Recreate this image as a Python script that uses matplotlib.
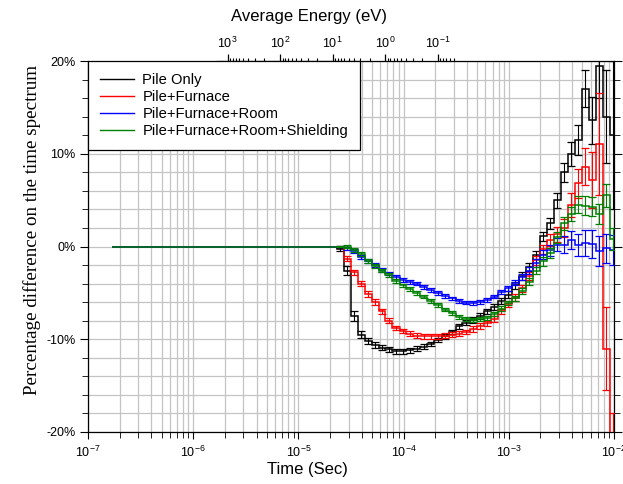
import numpy as np
import matplotlib
matplotlib.use("Agg")
import matplotlib.pyplot as plt
from matplotlib.lines import Line2D
from matplotlib.ticker import FixedLocator, NullFormatter, LogLocator, MultipleLocator

plt.rcParams['font.family'] = ['Liberation Sans', 'DejaVu Sans']
plt.rcParams['axes.unicode_minus'] = False

# ---------------- data ----------------
series_labels = ["Pile Only", "Pile+Furnace", "Pile+Furnace+Room", "Pile+Furnace+Room+Shielding"]
series_colors = ["#000000", "#ff0000", "#0000ff", "#008000"]

t_start = 1.7e-7          # start of the flat (zero) region, seconds
time_centers = [2.49e-5, 2.90e-5, 3.38e-5, 3.94e-5, 4.59e-5, 5.35e-5, 6.23e-5, 7.26e-5,
                8.47e-5, 9.87e-5, 1.15e-4, 1.34e-4, 1.56e-4, 1.82e-4, 2.12e-4, 2.48e-4,
                2.89e-4, 3.36e-4, 3.92e-4, 4.57e-4, 5.33e-4, 6.21e-4, 7.24e-4, 8.43e-4,
                9.83e-4, 1.15e-3, 1.34e-3, 1.56e-3, 1.82e-3, 2.12e-3, 2.47e-3, 2.87e-3,
                3.35e-3, 3.91e-3, 4.55e-3, 5.31e-3, 6.18e-3, 7.21e-3, 8.40e-3, 9.79e-3]

pile_only = [-0.3, -2.6, -7.5, -9.5, -10.2, -10.6, -10.9, -11.1, -11.3, -11.3,
             -11.2, -11.0, -10.8, -10.5, -10.1, -9.7, -9.2, -8.6, -8.2, -7.9,
             -7.5, -7.0, -6.5, -5.9, -5.2, -4.2, -3.2, -2.2, -0.9, 1.1,
             2.5, 5.0, 8.0, 10.0, 11.5, 17.0, 13.6, 19.5, 14.0, 12.0]
pile_only_err = [0.15, 0.5, 0.5, 0.4, 0.3, 0.3, 0.25, 0.25, 0.25, 0.25,
                 0.25, 0.25, 0.25, 0.25, 0.25, 0.25, 0.25, 0.25, 0.25, 0.3,
                 0.3, 0.3, 0.3, 0.3, 0.35, 0.35, 0.4, 0.4, 0.45, 0.5,
                 0.6, 0.8, 1.0, 1.3, 1.6, 2.0, 2.5, 3.5, 5.0, 8.0]

pile_furnace = [0.0, -1.3, -2.8, -4.0, -5.1, -6.0, -7.0, -8.0, -8.8, -9.1,
                -9.4, -9.6, -9.7, -9.7, -9.7, -9.6, -9.5, -9.4, -9.2, -8.9,
                -8.6, -8.3, -7.8, -7.0, -6.2, -5.5, -4.5, -3.2, -1.5, -0.3,
                0.7, 1.3, 2.0, 4.5, 6.8, 8.6, 7.2, 11.0, -11.0, -24.0]
pile_furnace_err = [0.1, 0.3, 0.3, 0.3, 0.3, 0.3, 0.25, 0.25, 0.25, 0.25,
                    0.25, 0.25, 0.25, 0.25, 0.25, 0.25, 0.25, 0.25, 0.25, 0.3,
                    0.3, 0.3, 0.3, 0.3, 0.35, 0.35, 0.4, 0.4, 0.45, 0.5,
                    0.6, 0.8, 1.0, 1.3, 1.6, 2.0, 3.0, 5.5, 4.5, 6.0]

pile_furnace_room = [0.0, -0.2, -0.5, -1.1, -1.6, -2.0, -2.5, -2.9, -3.3, -3.6,
                     -3.8, -4.0, -4.4, -4.7, -5.0, -5.3, -5.6, -5.9, -6.05, -6.1,
                     -6.0, -5.8, -5.4, -4.9, -4.5, -3.9, -3.3, -2.6, -1.8, -0.9,
                     -0.4, 0.2, 0.2, 0.7, 0.2, 0.4, 0.3, -0.5, -0.2, -0.4]
pile_furnace_room_err = [0.1, 0.15, 0.2, 0.2, 0.2, 0.2, 0.2, 0.2, 0.2, 0.2,
                         0.2, 0.2, 0.2, 0.2, 0.2, 0.2, 0.2, 0.2, 0.2, 0.2,
                         0.2, 0.2, 0.2, 0.2, 0.25, 0.3, 0.3, 0.35, 0.4, 0.5,
                         0.6, 0.7, 0.9, 1.0, 1.2, 1.4, 1.5, 1.6, 1.6, 1.6]

pile_furnace_room_shield = [0.0, 0.0, -0.4, -0.8, -1.6, -2.1, -2.6, -3.1, -3.7, -4.2,
                            -4.6, -5.0, -5.4, -5.9, -6.3, -6.8, -7.2, -7.6, -7.8, -7.9,
                            -7.8, -7.7, -7.3, -6.7, -6.1, -5.6, -4.8, -3.8, -2.6, -1.6,
                            -0.7, 1.0, 2.5, 3.5, 4.5, 4.4, 4.3, 3.5, 5.5, 0.8]
pile_furnace_room_shield_err = [0.1, 0.15, 0.2, 0.2, 0.2, 0.2, 0.2, 0.2, 0.2, 0.2,
                                0.2, 0.2, 0.2, 0.2, 0.2, 0.2, 0.2, 0.2, 0.2, 0.2,
                                0.2, 0.2, 0.2, 0.25, 0.25, 0.3, 0.3, 0.35, 0.4, 0.45,
                                0.5, 0.6, 0.7, 0.8, 0.9, 1.0, 1.0, 1.1, 1.2, 1.2]

x_major_ticks = [1e-7, 1e-6, 1e-5, 1e-4, 1e-3, 1e-2]
x_tick_labels = [r"$\mathregular{10^{-7}}$", r"$\mathregular{10^{-6}}$", r"$\mathregular{10^{-5}}$",
                 r"$\mathregular{10^{-4}}$", r"$\mathregular{10^{-3}}$", r"$\mathregular{10^{-2}}$"]
y_major_ticks = [-20, -10, 0, 10, 20]
y_tick_labels = ["-20%", "-10%", "0%", "10%", "20%"]

energy_major_ticks = [1e3, 1e2, 1e1, 1e0, 1e-1]
energy_tick_labels = [r"$\mathregular{10^{3}}$", r"$\mathregular{10^{2}}$", r"$\mathregular{10^{1}}$",
                      r"$\mathregular{10^{0}}$", r"$\mathregular{10^{-1}}$"]
energy_min, energy_max = 0.05, 1000.0
E_const = 4.5e-9   # E[eV] * t[s]^2

all_values = [pile_only, pile_furnace, pile_furnace_room, pile_furnace_room_shield]
all_errors = [pile_only_err, pile_furnace_err, pile_furnace_room_err, pile_furnace_room_shield_err]

# ---------------- figure ----------------
fig = plt.figure(figsize=(6.23, 4.84), dpi=100)
ax = fig.add_axes([88/623, 52/484, 526/623, 371/484])

ax.set_xscale('log')
ax.set_xlim(1e-7, 1e-2)
ax.set_ylim(-20, 20)

c = np.array(time_centers)
inner = np.sqrt(c[:-1] * c[1:])
first = c[0] / np.sqrt(c[1] / c[0])
last = c[-1] * np.sqrt(c[-1] / c[-2])
edges = np.concatenate([[t_start, first], inner, [last]])

for i, (vals, errs, col) in enumerate(zip(all_values, all_errors, series_colors)):
    v = np.concatenate([[0.0], vals])
    ax.stairs(v, edges, baseline=None, color=col, lw=1.1, zorder=3 + i * 0.1)
    ax.errorbar(c, vals, yerr=errs, fmt='none', ecolor=col, elinewidth=0.8,
                capsize=3, capthick=0.9, zorder=3 + i * 0.1)

# grid
ax.xaxis.set_minor_locator(LogLocator(base=10, subs=np.arange(2, 10)))
ax.xaxis.set_minor_formatter(NullFormatter())
ax.set_xticks(x_major_ticks)
ax.set_xticklabels(x_tick_labels)
ax.set_yticks(y_major_ticks)
ax.set_yticklabels(y_tick_labels)
ax.yaxis.set_minor_locator(MultipleLocator(2))
ax.grid(True, which='both', color='#c4c4c4', lw=0.9, zorder=0)
ax.set_axisbelow(True)

ax.tick_params(axis='both', which='both', direction='out', labelsize=9, top=False)
ax.tick_params(axis='x', which='major', length=5, pad=4)
ax.tick_params(axis='x', which='minor', length=4)
ax.tick_params(axis='y', which='major', length=6, pad=3, right=True)
ax.tick_params(axis='y', which='minor', length=4, right=True)

for s in ax.spines.values():
    s.set_linewidth(0.9)

def t2E(t):
    t = np.asarray(t, dtype=float)
    with np.errstate(divide='ignore', invalid='ignore'):
        return E_const / t**2

def E2t(E):
    E = np.asarray(E, dtype=float)
    with np.errstate(divide='ignore', invalid='ignore'):
        return np.sqrt(E_const / E)

ax.spines['top'].set_bounds(E2t(1600.0), 1e-2)

secax = ax.secondary_xaxis('top', functions=(t2E, E2t))
secax.spines['top'].set_visible(False)
secax.set_xticks(energy_major_ticks)
secax.set_xticklabels(energy_tick_labels)
minor_E = [k * 10.0**n for n in range(-2, 3) for k in range(2, 10)
           if energy_min - 1e-12 <= k * 10.0**n <= energy_max]
secax.xaxis.set_minor_locator(FixedLocator(minor_E))
secax.xaxis.set_minor_formatter(NullFormatter())
secax.tick_params(axis='x', which='major', direction='out', length=5, labelsize=9, pad=2, width=0.9)
secax.tick_params(axis='x', which='minor', direction='out', length=2.5, width=0.8)
secax.set_xlabel("Average Energy (eV)", fontsize=12, x=0.42, labelpad=11)

ax.set_xlabel("Time (Sec)", fontsize=12, x=0.418, labelpad=2)
ax.set_ylabel("Percentage difference on the time spectrum", fontsize=13.7,
              family=['Liberation Serif', 'DejaVu Serif'], labelpad=4, y=0.545)

handles = [Line2D([], [], color=col, lw=1.0) for col in series_colors]
leg = ax.legend(handles, series_labels, loc='upper left', fontsize=10.6, frameon=True,
                fancybox=False, edgecolor='black', borderaxespad=0, handlelength=2.3,
                handletextpad=0.6, labelspacing=0.22, borderpad=0.8)
leg.get_frame().set_linewidth(0.9)
leg.get_frame().set_alpha(1)
leg.set_zorder(5)

fig.savefig("out.png", dpi=100)
